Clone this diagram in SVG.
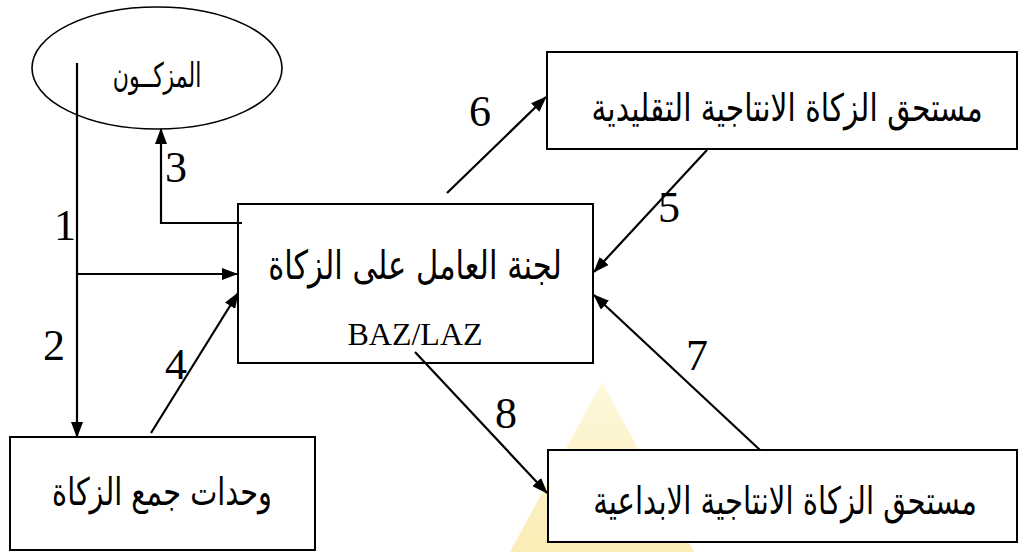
<svg xmlns="http://www.w3.org/2000/svg" width="1021" height="552" viewBox="0 0 1021 552">
<style>
  .box { fill: #ffffff; stroke: #000000; stroke-width: 2; }
  .ell { fill: #ffffff; stroke: #000000; stroke-width: 1.6; }
  .ar { font-family: "DejaVu Sans", "Noto Sans", sans-serif; fill: #000000; text-anchor: middle; }
  .num { font-family: "Liberation Serif", "Times New Roman", serif; font-size: 44px; fill: #000000; text-anchor: middle; }
  .lat { font-family: "Liberation Serif", "Times New Roman", serif; font-size: 32px; fill: #000000; text-anchor: middle; }
  .con { fill: none; stroke: #000000; stroke-width: 2.2; }
</style>
<defs>
  <marker id="arrow" viewBox="0 0 16 12" refX="15" refY="6" markerUnits="userSpaceOnUse" markerWidth="16" markerHeight="12" orient="auto">
    <path d="M0,0 L16,6 L0,12 z" fill="#000000"/>
  </marker>
  <linearGradient id="wm" x1="0" y1="0" x2="0" y2="1">
    <stop offset="0" stop-color="#fdf6d6"/>
    <stop offset="1" stop-color="#fbeaa8"/>
  </linearGradient>
</defs>
<rect x="0" y="0" width="1021" height="552" fill="#ffffff"/>
<g id="watermark">
  <polygon points="602,382 694,552 510,552" fill="url(#wm)" opacity="0.85"/>
</g>
<g id="muzakki">
  <ellipse class="ell" cx="157" cy="68" rx="125" ry="61"/>
  <text class="ar" transform="translate(157,87) scale(0.82,1)" x="0" y="0" font-size="34" textLength="108" lengthAdjust="spacingAndGlyphs">المزكــون</text>
</g>
<g id="amil">
  <rect class="box" x="238" y="204" width="355" height="159"/>
  <text class="ar" transform="translate(415,279) scale(0.82,1)" x="0" y="0" font-size="40" textLength="358" lengthAdjust="spacingAndGlyphs">لجنة العامل على الزكاة</text>
  <text class="lat" x="415" y="345">BAZ/LAZ</text>
</g>
<g id="taqlidi">
  <rect class="box" x="547" y="52" width="470" height="97"/>
  <text class="ar" transform="translate(787,121) scale(0.82,1)" x="0" y="0" font-size="38" textLength="477" lengthAdjust="spacingAndGlyphs">مستحق الزكاة الانتاجية التقليدية</text>
</g>
<g id="ibdai">
  <rect class="box" x="548" y="450" width="469" height="92"/>
  <text class="ar" transform="translate(785,514) scale(0.82,1)" x="0" y="0" font-size="38" textLength="468" lengthAdjust="spacingAndGlyphs">مستحق الزكاة الانتاجية الابداعية</text>
</g>
<g id="wahdat">
  <rect class="box" x="10" y="437" width="305" height="113"/>
  <text class="ar" transform="translate(162,505) scale(0.82,1)" x="0" y="0" font-size="38" textLength="268" lengthAdjust="spacingAndGlyphs">وحدات جمع الزكاة</text>
</g>
<g id="connectors">
  <path class="con" d="M77,63 V437" marker-end="url(#arrow)"/>
  <path class="con" d="M77,274 H237" marker-end="url(#arrow)"/>
  <path class="con" d="M242,223 H161 V129" marker-end="url(#arrow)"/>
  <path class="con" d="M151,433 L238,293" marker-end="url(#arrow)"/>
  <path class="con" d="M707,150 L594,272" marker-end="url(#arrow)"/>
  <path class="con" d="M447,193 L546,97" marker-end="url(#arrow)"/>
  <path class="con" d="M760,450 L594,295" marker-end="url(#arrow)"/>
  <path class="con" d="M415,352 L547,493" marker-end="url(#arrow)"/>
  <text class="num" x="65" y="240">1</text>
  <text class="num" x="54" y="360">2</text>
  <text class="num" x="176" y="182">3</text>
  <text class="num" x="176" y="379">4</text>
  <text class="num" x="669" y="222">5</text>
  <text class="num" x="480" y="126">6</text>
  <text class="num" x="697" y="370">7</text>
  <text class="num" x="506" y="428">8</text>
</g>
</svg>
